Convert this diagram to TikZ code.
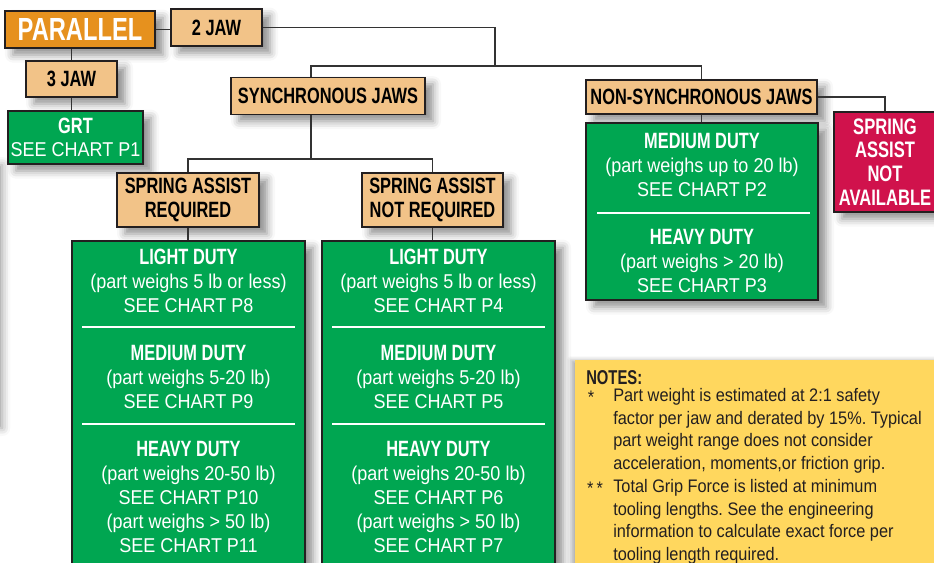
\documentclass[tikz,border=0pt]{standalone}
\usepackage{fontspec}
\setmainfont{Liberation Sans}[UprightFeatures={FakeStretch=0.9},BoldFeatures={FakeStretch=0.74}]
\usetikzlibrary{shadows.blur}

\definecolor{paraorange}{HTML}{E6911E}
\definecolor{jawtan}{HTML}{F2C388}
\definecolor{chartgreen}{HTML}{00A651}
\definecolor{nogored}{HTML}{D0124C}
\definecolor{notesyellow}{HTML}{FFD75E}
\definecolor{boxedge}{HTML}{231F20}
\definecolor{linegray}{HTML}{333333}

\newcommand{\chartfont}{\fontsize{15}{18}\selectfont}
\newcommand{\headfont}{\bfseries\fontsize{16.6}{18}\selectfont}
\newcommand{\notefont}{\frenchspacing\fontsize{13.6}{17}\selectfont}

\begin{document}
\begin{tikzpicture}[x=0.75pt,y=-0.75pt,
	outline/.style={draw=boxedge,line width=1.1pt,inner sep=0pt,
		blur shadow={shadow xshift=6pt,shadow yshift=-5pt,shadow blur radius=6pt,shadow opacity=45}},
	jawbox/.style={outline,fill=jawtan,font=\headfont,align=center},
	chartbox/.style={outline,fill=chartgreen},
	chartinfo/.style={text=white,align=center,font=\chartfont},
	notetext/.style={anchor=north west,align=left,font=\notefont,text=boxedge,inner sep=0pt},
	link/.style={draw=linegray,line width=1.1pt},
	divider/.style={draw=white,line width=1.6pt}]

	\useasboundingbox (0,0) rectangle (934,562);
	\clip (0,0) rectangle (934,562);

	% shadow of the panel left of the page
	\path[blur shadow={shadow xshift=4pt,shadow yshift=0pt,shadow blur radius=6pt,shadow opacity=40}] (-80,165) rectangle (-3,428);

	% notes panel
	\node[fill=notesyellow,minimum width=281.25pt,minimum height=180pt,
		blur shadow={shadow xshift=-3pt,shadow yshift=0pt,shadow blur radius=3pt,shadow opacity=30}] (notes) at (762.5,480) {};
	\node[anchor=west,font=\bfseries\fontsize{15}{17}\selectfont,text=boxedge,inner sep=0pt] (notestitle) at (586,378) {NOTES:};
	\node[anchor=north,font=\notefont,text=boxedge,inner sep=0pt] (starone) at (591,391) {*};
	\node[notetext] (noteone) at (613,388)
		{Part weight is estimated at 2:1 safety\\factor per jaw and derated by 15\%. Typical\\part weight range does not consider\\acceleration, moments,or friction grip.};
	\node[anchor=north,font=\notefont,text=boxedge,inner sep=0pt] (startwo) at (595,482) {*\,*};
	\node[notetext] (notetwo) at (613,479)
		{Total Grip Force is listed at minimum\\tooling lengths. See the engineering\\information to calculate exact force per\\tooling length required.};

	% top of the tree
	\node[outline,fill=paraorange,text=white,font=\bfseries\fontsize{24}{26}\selectfont,
		minimum width=112.5pt,minimum height=27.75pt] (parallel) at (80,29.5) {PARALLEL};
	\node[jawbox,minimum width=68.25pt,minimum height=27.75pt] (twojaw) at (216.5,27.5) {2 JAW};
	\node[jawbox,minimum width=68.25pt,minimum height=27pt] (threejaw) at (71.5,79) {3 JAW};
	\node[chartbox,chartinfo,minimum width=101.25pt,minimum height=39.75pt,font=\fontsize{15}{17.25}\selectfont] (grt) at (75.5,137.5)
		{{\headfont GRT}\\SEE CHART P1};

	% jaw types
	\node[jawbox,minimum width=145.5pt,minimum height=27.75pt] (sync) at (328,96) {SYNCHRONOUS JAWS};
	\node[jawbox,minimum width=173.25pt,minimum height=25.5pt] (nonsync) at (701.5,97) {NON-SYNCHRONOUS JAWS};
	\node[outline,fill=nogored,text=white,align=center,font=\bfseries\fontsize{16.8}{17.8}\selectfont,
		minimum width=76.5pt,minimum height=75pt] (noavail) at (885,162) {SPRING\\ASSIST\\NOT\\AVAILABLE};
	\node[jawbox,minimum width=106.5pt,minimum height=40.5pt] (springreq) at (188,200) {SPRING ASSIST\\REQUIRED};
	\node[jawbox,minimum width=105.75pt,minimum height=40.5pt] (springnot) at (432.5,200) {SPRING ASSIST\\NOT REQUIRED};

	% chart boxes
	\node[chartbox,minimum width=174.75pt,minimum height=269.25pt] (reqgrid) at (188.5,420.5) {};
	\node[chartbox,minimum width=174.75pt,minimum height=269.25pt] (notgrid) at (438.5,420.5) {};
	\node[chartbox,minimum width=174pt,minimum height=132.75pt] (nsgrid) at (702,211.5) {};

	\node[chartinfo] (reqlight) at (188.5,281) {{\headfont LIGHT DUTY}\\(part weighs 5 lb or less)\\SEE CHART P8};
	\node[chartinfo] (reqmedium) at (188.5,377) {{\headfont MEDIUM DUTY}\\(part weighs 5-20 lb)\\SEE CHART P9};
	\node[chartinfo] (reqheavy) at (188.5,497) {{\headfont HEAVY DUTY}\\(part weighs 20-50 lb)\\SEE CHART P10\\(part weighs > 50 lb)\\SEE CHART P11};

	\node[chartinfo] (notlight) at (438.5,281) {{\headfont LIGHT DUTY}\\(part weighs 5 lb or less)\\SEE CHART P4};
	\node[chartinfo] (notmedium) at (438.5,377) {{\headfont MEDIUM DUTY}\\(part weighs 5-20 lb)\\SEE CHART P5};
	\node[chartinfo] (notheavy) at (438.5,497) {{\headfont HEAVY DUTY}\\(part weighs 20-50 lb)\\SEE CHART P6\\(part weighs > 50 lb)\\SEE CHART P7};

	\node[chartinfo] (nsmedium) at (702,165) {{\headfont MEDIUM DUTY}\\(part weighs up to 20 lb)\\SEE CHART P2};
	\node[chartinfo] (nsheavy) at (702,261) {{\headfont HEAVY DUTY}\\(part weighs > 20 lb)\\SEE CHART P3};

	\draw[divider] (82,327) -- (295,327);
	\draw[divider] (82,424) -- (295,424);
	\draw[divider] (332,327) -- (545,327);
	\draw[divider] (332,424) -- (545,424);
	\draw[divider] (597,213) -- (810,213);

	% connectors
	\coordinate (jawsplit) at (495,66);
	\coordinate (synctap) at (311,66);
	\coordinate (springsplit) at (311,159);
	\draw[link] (parallel.east) -- (parallel.east -| twojaw.west);
	\draw[link] (threejaw.north) -- (threejaw.north |- parallel.south);
	\draw[link] (threejaw.south) -- (threejaw.south |- grt.north);
	\draw[link] (twojaw.east) -| (jawsplit);
	\draw[link] (synctap |- sync.north) -- (synctap) -| (nonsync.north);
	\draw[link] (synctap |- sync.south) -- (springsplit);
	\draw[link] (springreq.north) |- (springsplit) -| (springnot.north);
	\draw[link] (springreq.south) -- (springreq.south |- reqgrid.north);
	\draw[link] (springnot.south) -- (springnot.south |- notgrid.north);
	\draw[link] (nonsync.south) -- (nonsync.south |- nsgrid.north);
	\draw[link] (nonsync.east) -| (noavail.north);

\end{tikzpicture}
\end{document}
